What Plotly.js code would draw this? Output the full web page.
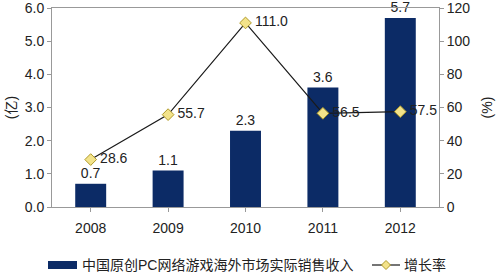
<!DOCTYPE html>
<html><head><meta charset="utf-8">
<script src="https://cdn.plot.ly/plotly-3.0.1.min.js"></script>
<style>body{margin:0;padding:0;background:#fff}#c{width:500px;height:273px}</style>
</head><body><div id="c"></div>
<script>
const years = ['2008','2009','2010','2011','2012'];
const revenue = [0.7, 1.1, 2.3, 3.6, 5.7];
const growth = [28.6, 55.7, 111.0, 56.5, 57.5];
const revenueName = '中国原创PC网络游戏海外市场实际销售收入';
const growthName = '增长率';
const font = 'Liberation Sans, Arial, Noto Sans CJK SC, sans-serif';
const barColor = '#0C2B66';
const markerFill = '#F3E38A', markerEdge = '#B09A2A';

// plot area in pixels: x 52..439, y 8..207
const L = 52, R = 439, T = 8, B = 207;
const px = v => (v - L) / (R - L);
const py = v => (B - v) / (B - T);

const traces = [
  {type:'bar', x:years, y:revenue, name:revenueName, width:0.4,
   marker:{color:barColor}, text:revenue.map(v=>v.toFixed(1)), textposition:'outside',
   textfont:{size:14,color:'#222'}, cliponaxis:false},
  {type:'scatter', mode:'lines+markers+text', x:years, y:growth, yaxis:'y2', name:growthName,
   line:{color:'#1a1a1a',width:1.2},
   marker:{symbol:'diamond',size:9,color:markerFill,line:{color:markerEdge,width:1}},
   text:growth.map(v=>'\u2009'+v.toFixed(1)), textposition:'middle right',
   textfont:{size:14,color:'#222'}, cliponaxis:false}
];
const legY = py(265);
const layout = {
  width:500, height:273, margin:{l:L,r:500-R,t:T,b:273-B},
  paper_bgcolor:'#fff', plot_bgcolor:'#fff',
  font:{family:font,size:14,color:'#222'},
  xaxis:{showline:true, linecolor:'#999', linewidth:1, mirror:true, ticks:'outside',
         ticklen:4, tickcolor:'#999', showgrid:false, tickson:'boundaries',
         ticklabelstandoff:4, tickfont:{size:14}, automargin:false},
  yaxis:{range:[0,6], dtick:1, tickformat:'.1f', showline:true, linecolor:'#999',
         ticks:'outside', ticklen:4, tickcolor:'#999', showgrid:false, zeroline:false,
         tickfont:{size:14}, automargin:false, ticklabeloverflow:'allow',
         title:{text:'(亿)', font:{size:14}, standoff:4}},
  yaxis2:{range:[0,120], dtick:20, overlaying:'y', side:'right', showline:true,
          linecolor:'#999', ticks:'outside', ticklen:4, tickcolor:'#999',
          showgrid:false, zeroline:false, tickfont:{size:14}, automargin:false,
          ticklabeloverflow:'allow',
          title:{text:'(%)', font:{size:14}, standoff:12}},
  showlegend:false,
  shapes:[
    {type:'rect', xref:'paper', yref:'paper', x0:px(48), x1:px(77), y0:py(269), y1:py(261),
     fillcolor:barColor, line:{width:0}},
    {type:'line', xref:'paper', yref:'paper', x0:px(372), x1:px(400), y0:legY, y1:legY,
     line:{color:'#1a1a1a', width:1.2}},
    {type:'path', xref:'paper', yref:'paper', xsizemode:'pixel', ysizemode:'pixel',
     xanchor:px(386), yanchor:legY, path:'M0,4.5 L4.5,0 L0,-4.5 L-4.5,0 Z',
     fillcolor:markerFill, line:{color:markerEdge, width:1}}
  ],
  annotations:[
    {xref:'paper', yref:'paper', x:px(80), y:legY, xanchor:'left', yanchor:'middle',
     text:revenueName, showarrow:false, font:{size:14}},
    {xref:'paper', yref:'paper', x:px(402), y:legY, xanchor:'left', yanchor:'middle',
     text:growthName, showarrow:false, font:{size:14}}
  ]
};
Plotly.newPlot('c', traces, layout, {displayModeBar:false, staticPlot:true});
</script></body></html>
